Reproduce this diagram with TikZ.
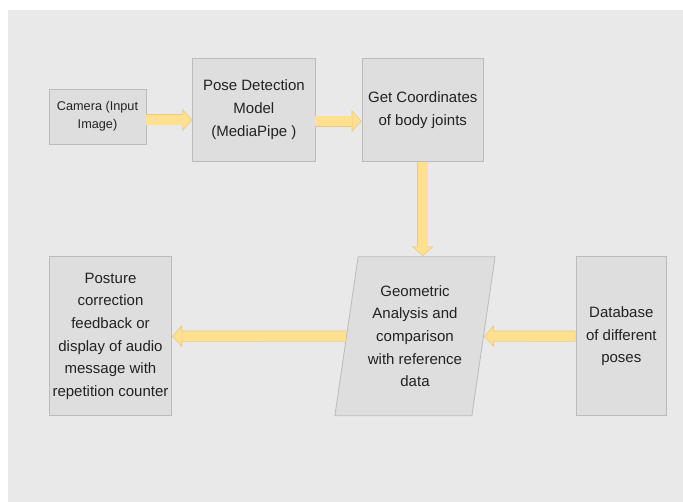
\documentclass[tikz,border=0pt]{standalone}
\usepackage{fontspec}
\setmainfont{Liberation Sans}
\usepackage{xcolor}
\usetikzlibrary{arrows.meta}
\usetikzlibrary{shapes.geometric}
\definecolor{pagegrey}{HTML}{E9E9E9}
\definecolor{boxfill}{HTML}{DEDEDE}
\definecolor{boxline}{HTML}{BBBBBB}
\definecolor{arrowfill}{HTML}{FFE08F}
\definecolor{arrowline}{HTML}{E8C97E}
\definecolor{inktext}{HTML}{222222}
\newcommand{\flowarrow}[2]{%
	\draw[arrowedge] #1 -- #2;
	\draw[arrowbody] #1 -- #2;}

\begin{document}
\begin{tikzpicture}[x=1pt,y=-1pt]
		\tikzset{
			procbox/.style={draw=boxline, fill=boxfill, line width=0.8pt, inner sep=0pt, align=center, text=inktext, font=\fontsize{15}{22.7}\selectfont},
			arrowedge/.style={draw=arrowline, line width=11pt, -{Triangle[length=10pt,width=22pt,line width=0pt]}},
			arrowbody/.style={draw=arrowfill, line width=9.6pt, shorten >=0.95pt, -{Triangle[length=8.35pt,width=18.4pt,line width=0pt]}}
		}
		\useasboundingbox (0,0) rectangle (683,502);
		\fill[white] (0,0) rectangle (683,502);
		\fill[pagegrey] (8,10) rectangle (683,502);
		
		% top row
		\node[procbox, minimum width=97pt, minimum height=55pt, font=\fontsize{12.7}{18}\selectfont] (cam) at (97.5,116.5) {Camera (Input\\Image)};
		\node[procbox, minimum width=122.3pt, minimum height=103pt] (pose) at (253.9,109.8) {Pose Detection\\Model\\(MediaPipe )};
		\node[procbox, minimum width=121.5pt, minimum height=103pt] (joints) at (422.75,109.8) {Get Coordinates\\of body joints};
		
		% bottom row
		\node[procbox, trapezium, trapezium left angle=79.3, trapezium right angle=100.7, trapezium stretches=true, minimum width=160.5pt, minimum height=159pt] (geo) at (415,336.2) {Geometric\\Analysis and\\comparison\\with reference\\data};
		\node[procbox, minimum width=122.4pt, minimum height=159pt] (feedback) at (110.5,336.2) {Posture\\correction\\feedback or\\display of audio\\message with\\repetition counter};
		\node[procbox, minimum width=90.7pt, minimum height=159pt] (db) at (621.3,336.2) {Database\\of different\\poses};
		
		\flowarrow{([yshift=-3.5pt]cam.east)}{([yshift=-3.5pt]cam.east -| pose.west)}
		\flowarrow{([yshift=-11.3pt]pose.east)}{([yshift=-11.3pt]pose.east -| joints.west)}
		\flowarrow{(joints.south)}{(joints.south |- geo.north)}
		\flowarrow{(db.west)}{(geo.east)}
		\flowarrow{(geo.west)}{(feedback.east)}
\end{tikzpicture}
\end{document}
